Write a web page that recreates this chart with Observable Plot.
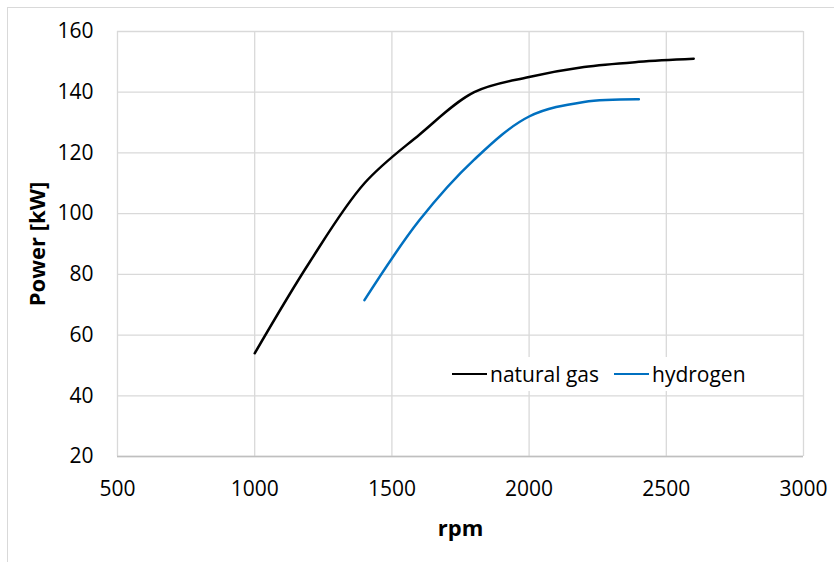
<!DOCTYPE html>
<html>
<head>
<meta charset="utf-8">
<script src="https://cdn.jsdelivr.net/npm/d3@7"></script>
<script src="https://cdn.jsdelivr.net/npm/@observablehq/plot@0.6"></script>
<style>
  html, body { margin: 0; padding: 0; background: #fff; overflow: hidden; width: 834px; height: 562px; }
  #wrap { position: relative; width: 834px; height: 562px; }
  #frame { position: absolute; left: 7px; top: 7px; width: 900px; height: 700px; border: 1px solid #d9d9d9; pointer-events: none; }
  #chart { position: absolute; left: 0; top: 0; }
  #chart svg g[aria-label="x-axis label"] text,
  #chart svg g[aria-label="y-axis label"] text { font-weight: bold; font-size: 22px; }
  #legend { position: absolute; left: 448px; top: 357px; height: 34px; background: #fff; display: flex; align-items: center;
            font-family: "Open Sans", sans-serif; font-size: 21px; color: #000; padding: 0 4px 0 4px; }
  .item { display: flex; align-items: center; }
  .swatch { display: inline-block; width: 35px; height: 2.5px; margin-right: 3px; }
</style>
</head>
<body>
<div id="wrap">
  <div id="frame"></div>
  <div id="chart"></div>
  <div id="legend"></div>
</div>
<script>
// Data
const seriesNames = ["natural gas", "hydrogen"];
const seriesColors = ["#000000", "#0070C0"];

const gasRpm   = [1000, 1200, 1400, 1600, 1800, 2000, 2200, 2400, 2600];
const gasPower = [54, 84, 110, 126, 140, 145, 148.3, 150, 151];

const h2Rpm   = [1400, 1600, 1800, 2000, 2200, 2400];
const h2Power = [71.5, 97.8, 117.8, 132, 136.8, 137.7];

const xTicks = [500, 1000, 1500, 2000, 2500, 3000];
const yTicks = [20, 40, 60, 80, 100, 120, 140, 160];

const gas = gasRpm.map((r, i) => ({rpm: r, power: gasPower[i], series: seriesNames[0]}));
const h2  = h2Rpm.map((r, i) => ({rpm: r, power: h2Power[i], series: seriesNames[1]}));

const chart = Plot.plot({
  width: 834,
  height: 562,
  marginLeft: 117,
  marginRight: 31,
  marginTop: 31,
  marginBottom: 106,
  style: {fontFamily: "'Open Sans', sans-serif", fontSize: "21px", color: "#000", background: "transparent", overflow: "visible"},
  x: {domain: [500, 3000]},
  y: {domain: [20, 160]},
  marks: [
    Plot.gridX(xTicks, {stroke: "#d9d9d9", strokeOpacity: 1, strokeWidth: 1.3}),
    Plot.gridY(yTicks, {stroke: "#d9d9d9", strokeOpacity: 1, strokeWidth: 1.3}),
    Plot.ruleY([20], {stroke: "#bfbfbf", strokeWidth: 1.3}),
    Plot.axisX(xTicks, {tickSize: 0, tickPadding: 25, tickFormat: d => String(d), label: "rpm", labelAnchor: "center", labelArrow: "none", labelOffset: 79, fontSize: 21}),
    Plot.axisY(yTicks, {tickSize: 0, tickPadding: 24, tickFormat: d => String(d), label: "Power [kW]", labelAnchor: "center", labelArrow: "none", labelOffset: 88, fontSize: 21}),
    Plot.line(gas, {x: "rpm", y: "power", stroke: seriesColors[0], strokeWidth: 2.5, curve: "catmull-rom"}),
    Plot.line(h2, {x: "rpm", y: "power", stroke: seriesColors[1], strokeWidth: 2.5, curve: "catmull-rom"})
  ]
});
document.getElementById("chart").appendChild(chart);

const legend = document.getElementById("legend");
seriesNames.forEach((name, i) => {
  const item = document.createElement("span");
  item.className = "item";
  if (i > 0) item.style.marginLeft = "15px";
  const sw = document.createElement("span");
  sw.className = "swatch";
  sw.style.background = seriesColors[i];
  const t = document.createElement("span");
  t.textContent = name;
  item.appendChild(sw);
  item.appendChild(t);
  legend.appendChild(item);
});
</script>
</body>
</html>
